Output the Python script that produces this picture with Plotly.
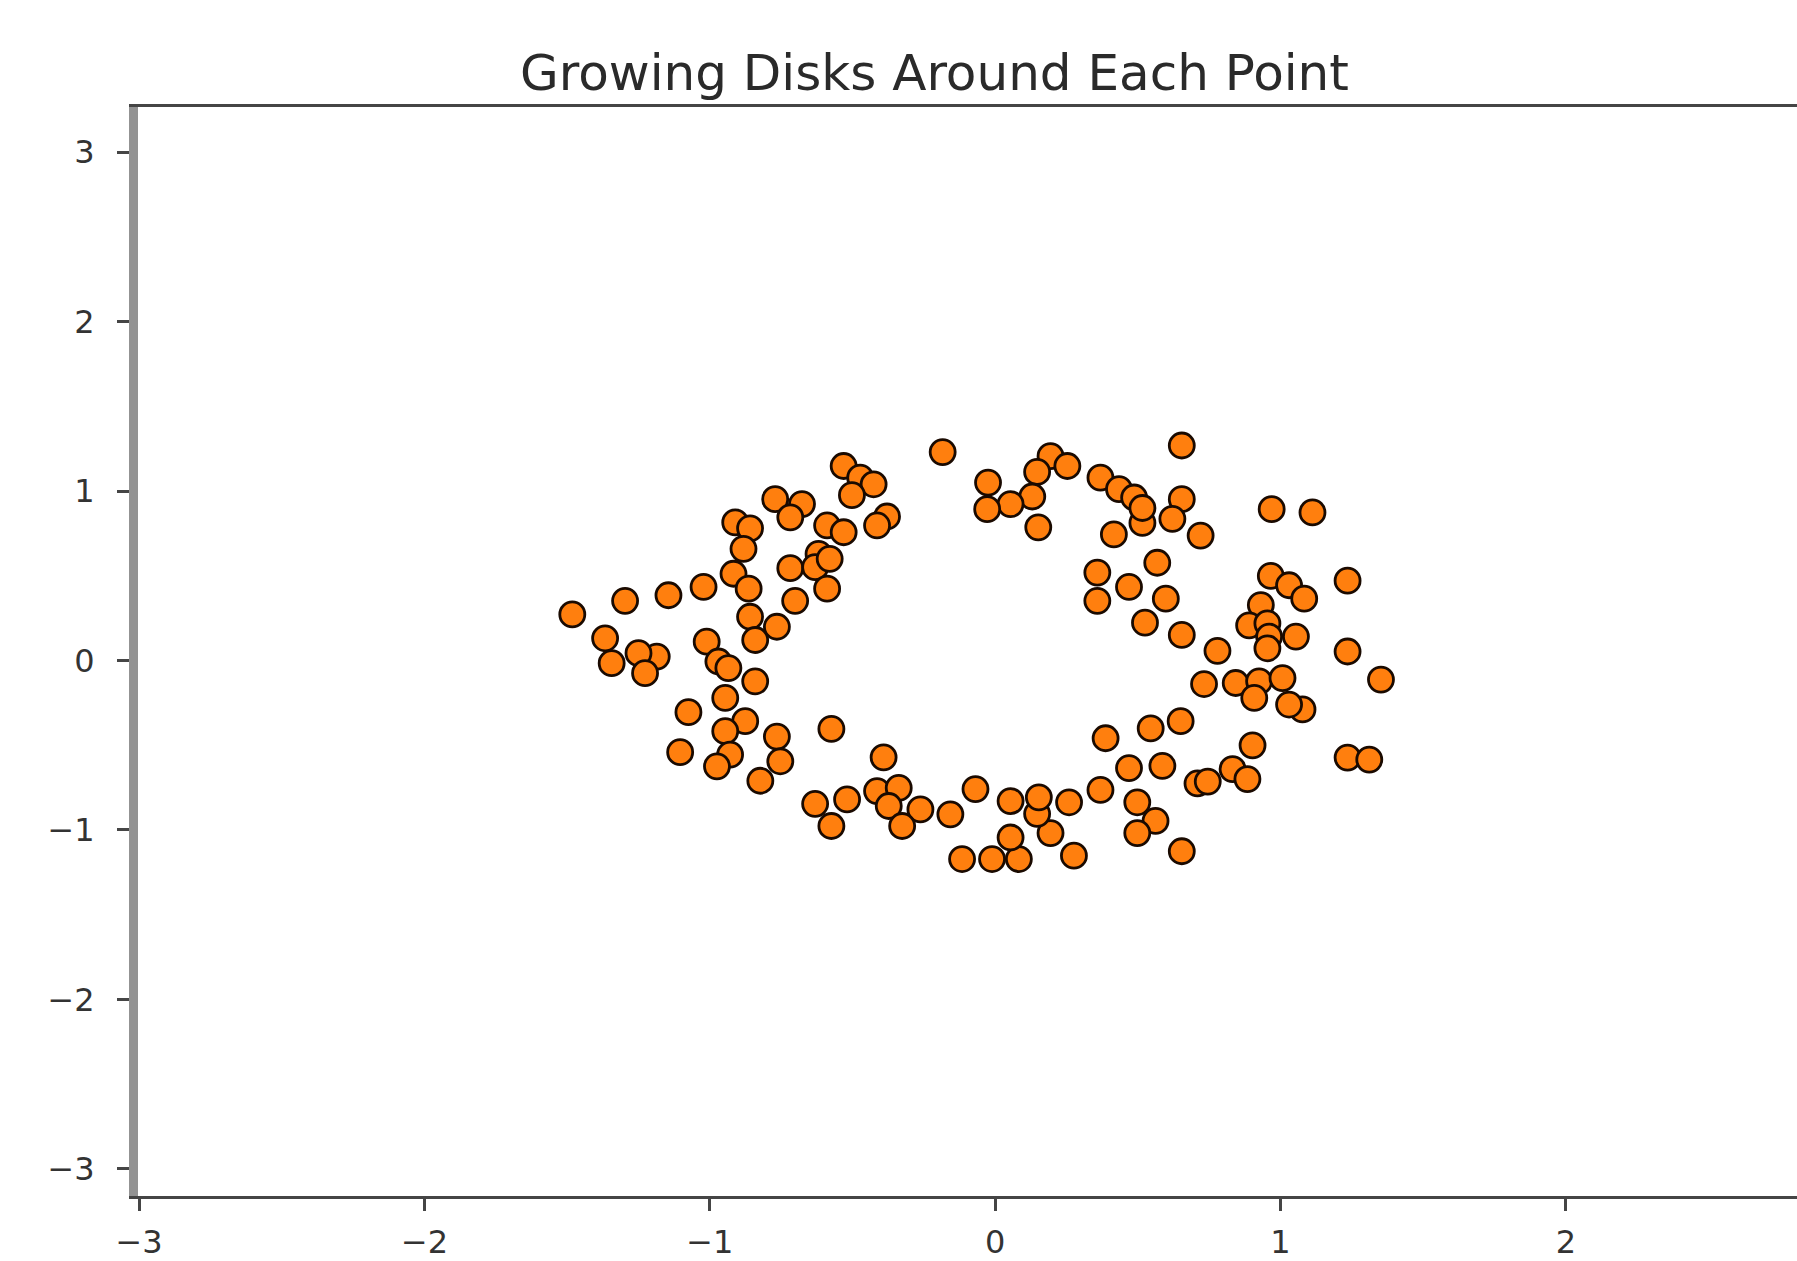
import plotly.graph_objects as go

title_text = "Growing Disks Around Each Point"

x_vals = [
    -0.184, 0.654, 0.194, 0.253, 0.147, -0.025, 0.130, 0.054, -0.028, 0.151,
    0.369, 0.434, 0.487, 0.654, 0.516, 0.621, 0.416, 0.720, 0.969, 1.112,
    0.516,
    -0.531, -0.473, -0.426, -0.502, -0.771, -0.677, -0.718, -0.379, -0.414, -0.589,
    -0.531, -0.911, -0.859, -0.882, -0.619, -0.718, -0.631, -0.580, -0.589, -0.701,
    -0.917, -0.864, -1.022, -1.145, -1.297, -1.482, -0.859, -0.765, -0.841, -1.367,
    -1.011, -1.186, -1.250, -1.344, -1.227, -0.970, -0.935, -0.841, -0.946, -1.075,
    -0.876, -0.946, -0.765, -0.574, -1.104, -0.929, -0.975, -0.753, -0.823, -0.391,
    -0.631, -0.519, -0.574, -0.414, -0.338, -0.373, -0.262, -0.326, -0.157, -0.069,
    -0.116, -0.011, 0.083, 0.054, 0.194, 0.276, 0.054, 0.147, 0.153, 0.259,
    0.369, 0.498, 0.562, 0.498, 0.654, 0.469, 0.586, 0.709, 0.832, 0.884,
    0.387, 0.545, 0.650, 0.902, 1.235, 1.311, 0.745,
    0.568, 0.358, 0.469, 0.358, 0.598, 0.525, 0.654, 0.779, 0.966, 1.030,
    1.083, 1.235, 0.931, 0.890, 0.954, 0.960, 1.054, 0.954, 1.235,
    0.732, 0.843, 0.925, 1.007, 0.908, 1.077, 1.030, 1.352,
]

y_vals = [
    1.230, 1.269, 1.206, 1.148, 1.113, 1.050, 0.968, 0.923, 0.893, 0.786,
    1.079, 1.011, 0.962, 0.952, 0.812, 0.836, 0.744, 0.737, 0.893, 0.874,
    0.900,
    1.148, 1.079, 1.040, 0.976, 0.952, 0.923, 0.845, 0.850, 0.797, 0.797,
    0.757, 0.815, 0.780, 0.659, 0.629, 0.545, 0.551, 0.600, 0.424, 0.352,
    0.512, 0.424, 0.434, 0.385, 0.352, 0.272, 0.258, 0.199, 0.121, 0.131,
    0.111, 0.023, 0.043, -0.016, -0.075, -0.006, -0.045, -0.123, -0.221, -0.305,
    -0.358, -0.417, -0.449, -0.404, -0.541, -0.556, -0.625, -0.595, -0.710, -0.572,
    -0.846, -0.820, -0.977, -0.771, -0.752, -0.859, -0.879, -0.977, -0.908, -0.759,
    -1.172, -1.172, -1.172, -1.045, -1.019, -1.152, -0.830, -0.905, -0.808, -0.837,
    -0.764, -0.837, -0.947, -1.019, -1.126, -0.635, -0.622, -0.726, -0.641, -0.700,
    -0.459, -0.401, -0.358, -0.501, -0.573, -0.585, -0.715,
    0.577, 0.519, 0.434, 0.352, 0.365, 0.223, 0.151, 0.057, 0.499, 0.444,
    0.365, 0.471, 0.327, 0.207, 0.219, 0.141, 0.141, 0.072, 0.053,
    -0.139, -0.133, -0.123, -0.104, -0.221, -0.289, -0.260, -0.113,
]

x_ticks = [-3, -2, -1, 0, 1, 2]
y_ticks = [-3, -2, -1, 0, 1, 2, 3]

fig = go.Figure()
fig.add_trace(go.Scatter(
    x=x_vals, y=y_vals, mode="markers",
    marker=dict(size=25, color="#ff7f0e", line=dict(color="#1a0a00", width=2.8)),
    showlegend=False, hoverinfo="skip",
))

fig.update_layout(
    width=1797, height=1261,
    margin=dict(l=138, r=0, t=107, b=58, pad=0),
    paper_bgcolor="white", plot_bgcolor="white",
    font=dict(family="DejaVu Sans", color="#333333"),
    title=dict(text=title_text, x=0.52, xanchor="center", y=1 - 72 / 1261,
               yanchor="middle", yref="container",
               font=dict(size=50, family="DejaVu Sans", color="#2a2a2a")),
    xaxis=dict(range=[-3.004, 2.81], tickvals=x_ticks, showgrid=False, zeroline=False,
               showline=True, mirror=True, linecolor="#454545", linewidth=3,
               ticks="outside", ticklen=12, tickwidth=3, tickcolor="#454545",
               tickfont=dict(size=32, color="#333333"), ticklabelstandoff=4),
    yaxis=dict(range=[-3.161, 3.267], tickvals=y_ticks, showgrid=False, zeroline=False,
               showline=True, mirror=False, linecolor="#939393", linewidth=9,
               ticks="outside", ticklen=12, tickwidth=3, tickcolor="#454545",
               tickfont=dict(size=32, color="#333333"), ticklabelstandoff=16),
)

fig.write_html("out.html")
